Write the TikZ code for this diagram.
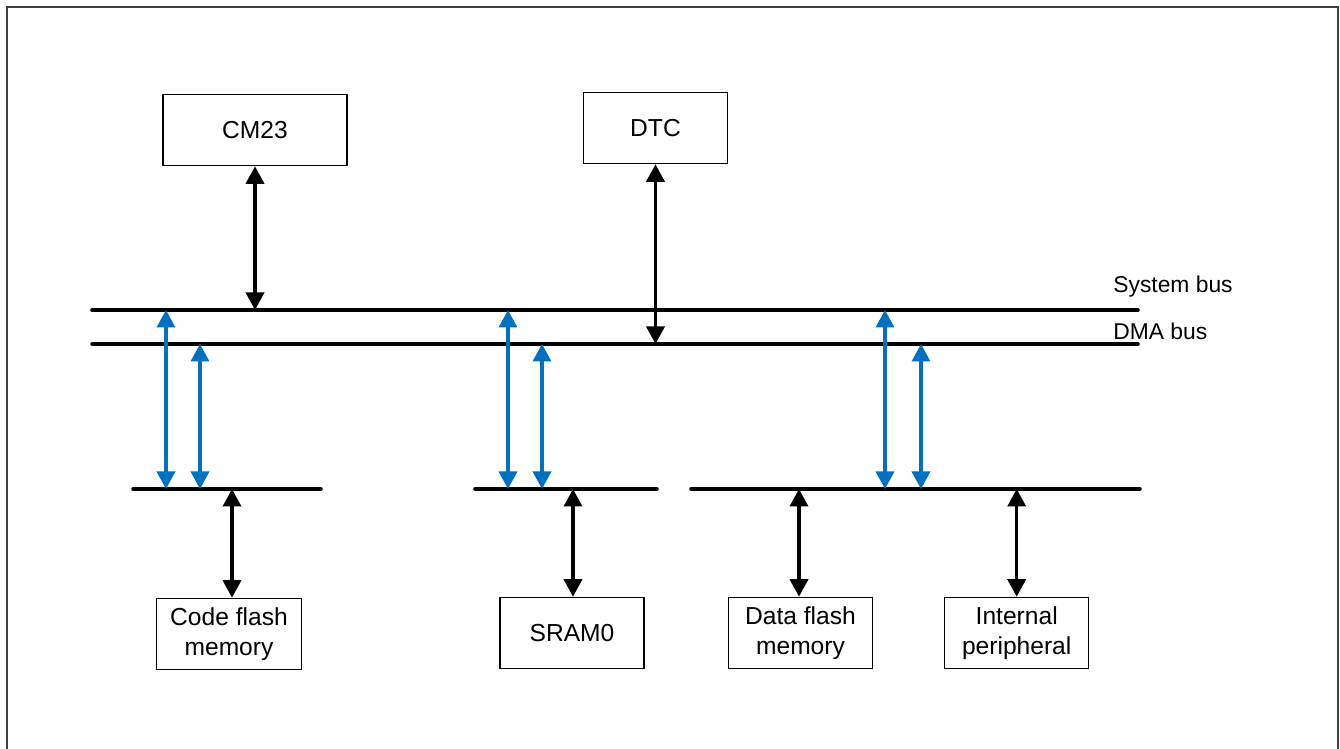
\documentclass[tikz,border=0pt]{standalone}
\usepackage{fontspec}
\setmainfont{Liberation Sans}
\usetikzlibrary{arrows.meta,positioning}
\definecolor{busblue}{RGB}{0,112,192}
\definecolor{framegray}{RGB}{64,64,64}

\begin{document}
\begin{tikzpicture}[x=0.02cm,y=-0.02cm,font=\fontsize{14}{17}\selectfont,
        box/.style={draw,line width=0.6pt,align=center,inner sep=0pt,
                    minimum height=1.43cm},
        bus/.style={line width=2pt,line cap=round},
        arr/.style={{Triangle[length=3.5mm,width=3.6mm]}-{Triangle[length=3.5mm,width=3.6mm]},line width=2pt},
        barr/.style={arr,busblue},
        lbl/.style={anchor=west,inner sep=0pt,font=\fontsize{13}{15}\selectfont}]
        \useasboundingbox (0,0) rectangle (1340,749);
        \draw[framegray,line width=1.2pt] (7,749) -- (7,7) -- (1338,7) -- (1338,749);
        % masters
        \node[box,minimum width=3.68cm] (cm23) at (255,130) {CM23};
        \node[box,minimum width=2.88cm] (dtc) at (655.5,128) {DTC};
        % buses
        \coordinate (sysL) at (92,310);   \coordinate (sysR) at (1138,310);
        \coordinate (dmaL) at (92,344);   \coordinate (dmaR) at (1138,344);
        \coordinate (low1L) at (133,489); \coordinate (low1R) at (321,489);
        \coordinate (low2L) at (475,489); \coordinate (low2R) at (657,489);
        \coordinate (low3L) at (691,489); \coordinate (low3R) at (1140,489);
        \draw[bus] (sysL) -- (sysR);
        \draw[bus] (dmaL) -- (dmaR);
        \draw[bus] (low1L) -- (low1R);
        \draw[bus] (low2L) -- (low2R);
        \draw[bus] (low3L) -- (low3R);
        \node[lbl] (syslbl) at (1113,287) {System bus};
        \node[lbl] (dmalbl) at (1113,331) {DMA bus};
        % slaves
        \node[box,minimum width=2.9cm] (cflash) at (229,634) {Code flash\\memory};
        \node[box,minimum width=2.88cm] (sram) at (572,633) {SRAM0};
        \node[box,minimum width=2.89cm] (dflash) at (800.5,633) {Data flash\\memory};
        \node[box,minimum width=2.89cm] (periph) at (1016.7,633) {Internal\\peripheral};
        % master connections
        \draw[arr] (cm23.south) -- (cm23.south |- sysL);
        \draw[arr] (dtc.south) -- (dtc.south |- dmaL);
        % bus bridges
        \foreach \x [count=\i] in {166,200,508,542,885,921}
          \coordinate (tap\i) at (\x,0);
        \draw[barr] (tap1 |- sysL) -- (tap1 |- low1L);
        \draw[barr] (tap2 |- dmaL) -- (tap2 |- low1L);
        \draw[barr] (tap3 |- sysL) -- (tap3 |- low2L);
        \draw[barr] (tap4 |- dmaL) -- (tap4 |- low2L);
        \draw[barr] (tap5 |- sysL) -- (tap5 |- low3L);
        \draw[barr] (tap6 |- dmaL) -- (tap6 |- low3L);
        % slave connections
        \draw[arr] (cflash.north -| 232,0) -- (232,489);
        \draw[arr] (sram.north -| 573,0) -- (573,489);
        \draw[arr] (dflash.north -| 799,0) -- (799,489);
        \draw[arr] (periph.north) -- (periph.north |- low3L);
      \end{tikzpicture}
\end{document}
